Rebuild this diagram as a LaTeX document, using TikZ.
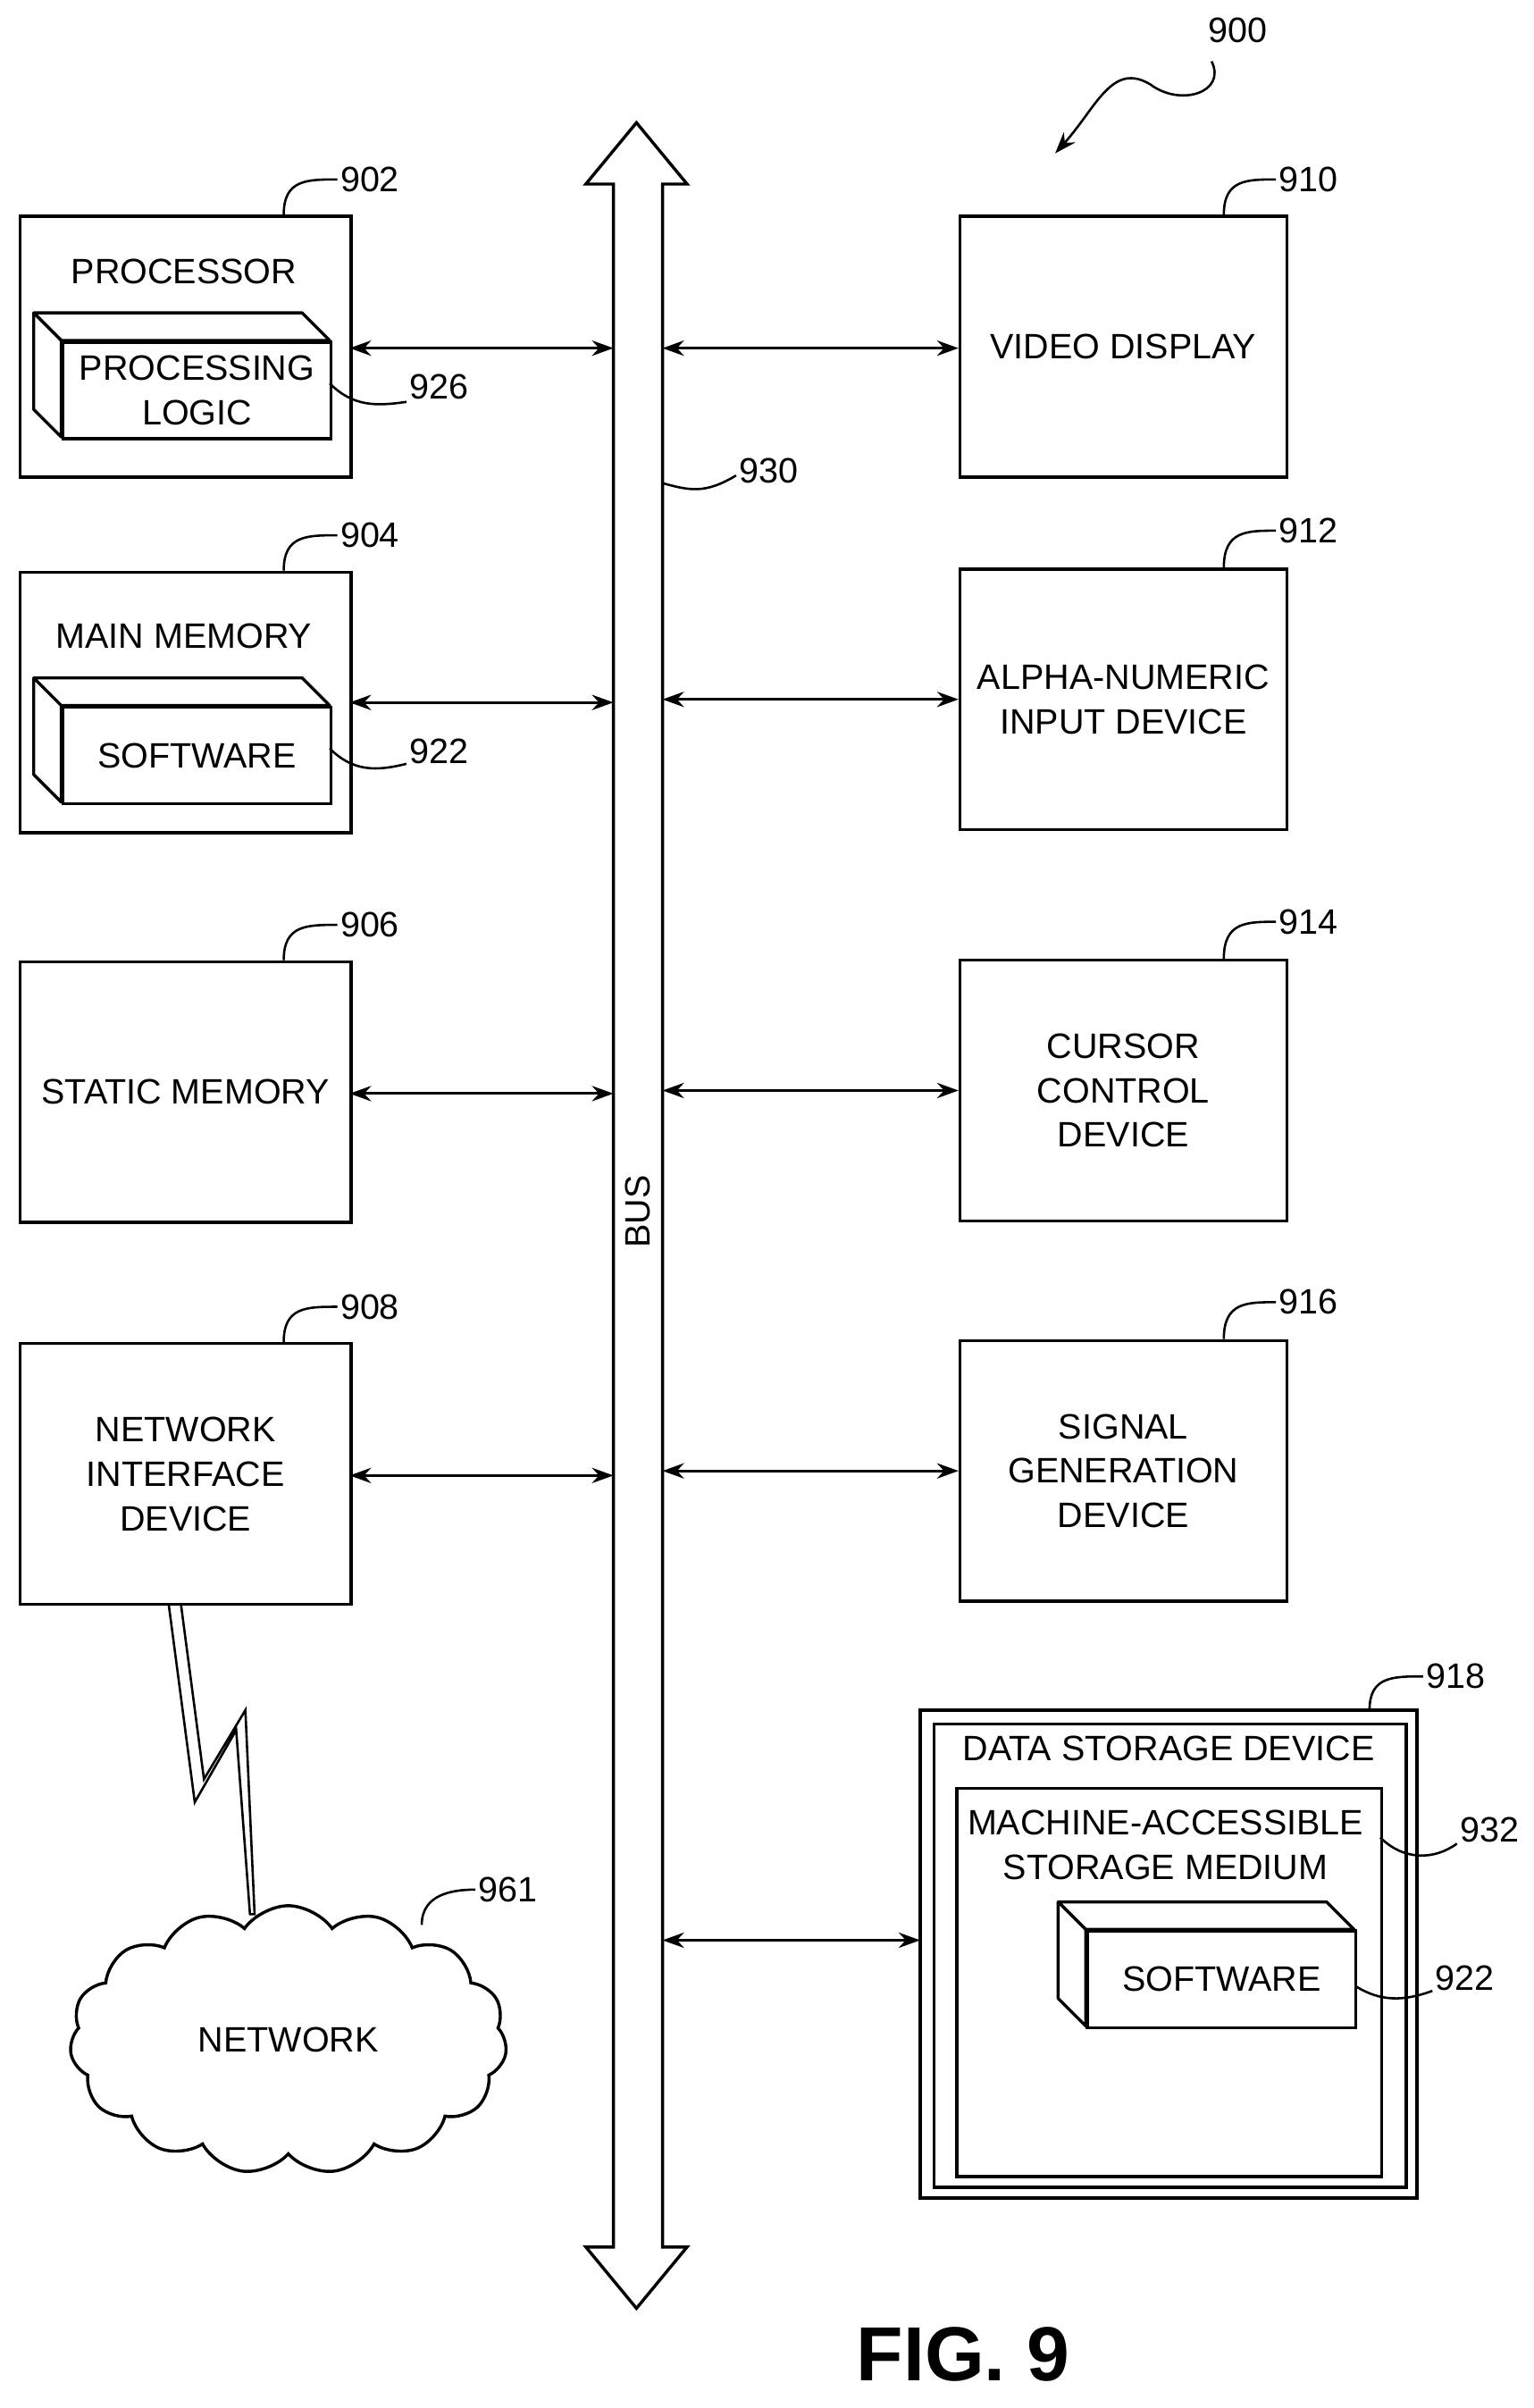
\documentclass[tikz,border=0pt]{standalone}
\usepackage{fontspec}
\setmainfont{Liberation Sans}
\usetikzlibrary{shapes.symbols,arrows.meta}
\begin{document}
\begin{tikzpicture}[x=1pt,y=-1pt,line width=2pt,
  box/.style={draw},
  txt/.style={font=\fontsize{23}{29}\selectfont,align=center,inner sep=0},
  num/.style={font=\fontsize{23}{29}\selectfont,inner sep=1pt},
  arr/.style={{Stealth[length=14pt,width=10pt]}-{Stealth[length=14pt,width=10pt]},line width=1.8pt},
  lead/.style={line width=1.5pt}]
\useasboundingbox (0,0) rectangle (1000,1570);
% bus
\draw[line width=2pt] (400,1465) -- (400,120) -- (382,120) -- (415,80) coordinate (bustop) -- (448,120) -- (432,120) -- (432,1465) -- (448,1465) -- (415,1505) coordinate (busbot) -- (382,1465) -- cycle;
\node[txt,rotate=90] (bus) at (416,790) {BUS};
\coordinate (busL) at (400,0); \coordinate (busR) at (432,0);
% left boxes
\node[box,minimum width=216,minimum height=170,anchor=north west] (p902) at (12,140) {};
\node[txt] at (120,177) {PROCESSOR};
\node[box,minimum width=216,minimum height=170,anchor=north west] (p904) at (12,372) {};
\node[txt] at (120,415) {MAIN MEMORY};
\node[box,minimum width=216,minimum height=170,anchor=north west,txt,draw] (p906) at (12,626) {STATIC MEMORY};
\node[box,minimum width=216,minimum height=170,anchor=north west,txt,draw] (p908) at (12,875) {NETWORK\\INTERFACE\\DEVICE};
% right boxes
\node[box,minimum width=213,minimum height=170,anchor=north west,txt,draw] (p910) at (625,140) {VIDEO DISPLAY};
\node[box,minimum width=213,minimum height=170,anchor=north west,txt,draw] (p912) at (625,370) {ALPHA-NUMERIC\\INPUT DEVICE};
\node[box,minimum width=213,minimum height=170,anchor=north west,txt,draw] (p914) at (625,625) {CURSOR\\CONTROL\\DEVICE};
\node[box,minimum width=213,minimum height=170,anchor=north west,txt,draw] (p916) at (625,873) {SIGNAL\\GENERATION\\DEVICE};
% data storage
\draw (600,1115) rectangle (924,1433);
\node[draw,minimum width=308,minimum height=302,anchor=north west] (p918) at (608,1123) {};
\node[txt] at (762,1140) {DATA STORAGE DEVICE};
\node[draw,minimum width=277,minimum height=253,anchor=north west] (p932) at (623,1165) {};
\node[txt] at (760,1203) {MACHINE-ACCESSIBLE\\STORAGE MEDIUM};
% 3D boxes
\foreach \n/\x/\y/\t in {a/40/222/{PROCESSING\\LOGIC},b/40/460/SOFTWARE,c/708/1258/SOFTWARE}{
  \draw[line join=round] (\x-18,\y-18) -- (\x+157,\y-18) -- (\x+175,\y) -- (\x,\y) -- cycle;
  \draw[line join=round] (\x-18,\y-18) -- (\x-18,\y+45) -- (\x,\y+63) -- (\x,\y);
  \node[draw,minimum width=175,minimum height=63,anchor=north west,txt] (s\n) at (\x,\y) {\t};
}
% arrows
\draw[arr] (228,227) -- (400,227);
\draw[arr] (228,458) -- (400,458);
\draw[arr] (228,713) -- (400,713);
\draw[arr] (228,962) -- (400,962);
\draw[arr] (432,227) -- (625,227);
\draw[arr] (432,456) -- (625,456);
\draw[arr] (432,711) -- (625,711);
\draw[arr] (432,959) -- (625,959);
\draw[arr] (432,1265) -- (600,1265);
% reference numbers
\foreach \xa/\ya/\xb/\yb/\t in {185/140/220/117/902, 185/372/220/349/904, 185/626/220/603/906, 185/875/220/852/908,
  798/140/832/117/910, 798/370/832/346/912, 798/625/832/601/914, 798/873/832/849/916, 893/1115/928/1093/918}{
  \draw[lead] (\xa,\ya) .. controls (\xa,\yb) and (\xa+15,\yb) .. (\xb,\yb);
  \node[num,anchor=west] at (\xb,\yb) {\t};
}
\draw[lead] (215,250) .. controls (230,265) and (245,265) .. (265,262); \node[num,anchor=west] at (265,252) {926};
\draw[lead] (215,488) .. controls (230,503) and (245,503) .. (265,498); \node[num,anchor=west] at (265,490) {922};
\draw[lead] (432,315) .. controls (450,320) and (460,322) .. (480,310); \node[num,anchor=west] at (480,307) {930};
\draw[lead] (900,1198) .. controls (915,1213) and (935,1213) .. (950,1202); \node[num,anchor=west] at (950,1193) {932};
\draw[lead] (884,1295) .. controls (900,1305) and (915,1305) .. (934,1298); \node[num,anchor=west] at (934,1290) {922};
% 900
\node[num] (n900) at (807,20) {900};
\draw[lead,-{Stealth[length=14pt,width=10pt]}] (790,40) .. controls (800,60) and (770,70) .. (750,55) .. controls (725,40) and (715,70) .. (688,100);
% network
\node[cloud,draw,cloud puffs=15,cloud puff arc=110,aspect=1.7,minimum width=285,minimum height=175,txt] (net) at (188,1330) {NETWORK};
\draw[lead] (275,1255) .. controls (275,1235) and (295,1232) .. (310,1232); \node[num,anchor=west] at (310,1232) {961};
\draw[line width=1.5pt,line join=miter] (110,1046) -- (127,1175) -- (154,1128) -- (163,1248) -- (166,1248) -- (160,1115) -- (133,1160) -- (118,1046);
\node[font=\fontsize{50}{60}\selectfont\bfseries] at (628,1535) {FIG. 9};
\end{tikzpicture}
\end{document}
